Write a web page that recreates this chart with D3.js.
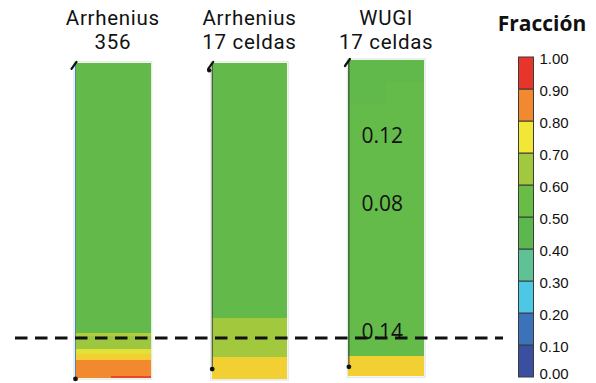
<!DOCTYPE html>
<html>
<head>
<meta charset="utf-8">
<script src="https://cdn.jsdelivr.net/npm/d3@7"></script>
<style>
  html, body { margin: 0; padding: 0; background: #fff; }
  svg { display: block; }
</style>
</head>
<body>
<svg id="chart" width="596" height="383"></svg>
<script>
// Column identifiers and their two-line headers
const columnKeys = ["a356", "a17", "w17"];
const headerLine1 = ["Arrhenius", "Arrhenius", "WUGI"];
const headerLine2 = ["356", "17 celdas", "17 celdas"];

// Layers per column: [depthTop, depthBottom, widthFrom, widthTo, fraction]
// depth runs 0 (top) .. 100 (bottom); width runs 0 (left) .. 1 (right)
const layersA356 = [
  [0.9, 85.8, 0, 1, 0.50],
  [85.8, 86.8, 0, 1, 0.67],
  [86.8, 90.9, 0, 1, 0.64],
  [90.9, 92.5, 0, 1, 0.73],
  [92.5, 94.3, 0, 1, 0.775],
  [94.3, 100, 0, 1, 0.85],
  [99.3, 100, 0.47, 1, 0.93]
];
const layersA17 = [
  [0.9, 81.1, 0, 1, 0.50],
  [81.1, 93.4, 0, 1, 0.65],
  [93.4, 100.3, 0, 1, 0.775]
];
const layersW17 = [
  [0, 6.9, 0, 1, 0.485],
  [6.9, 13.5, 0, 0.5, 0.485],
  [6.9, 13.5, 0.5, 1, 0.51],
  [13.5, 93.1, 0, 1, 0.51],
  [93.1, 99.5, 0, 1, 0.775]
];
const columnLayers = [layersA356, layersA17, layersW17];

// Depth where each column's probe starts and ends (dot)
const probeEndDepth = [100.3, 97.2, 96.5];
const probeTopDepth = [0.9, 0.9, 0];

// Numbers written inside the WUGI column
const fieldLabelText = ["0.12", "0.08", "0.14"];
const fieldLabelDepth = [23.6, 45.0, 85.4];

// Horizontal reference level
const referenceDepth = 87.4;

// Colour legend
const legendTitle = "Fracción";
const legendTicks = [0, 0.1, 0.2, 0.3, 0.4, 0.5, 0.6, 0.7, 0.8, 0.9, 1.0];
const legendColors = ["#3a4f9f", "#3b72ba", "#4cc7e6", "#5fc196", "#5cb74f",
                      "#69bd47", "#a2c83d", "#f2e736", "#f3892e", "#e8352b"];

const svg = d3.select("#chart");

// Scales
const x = d3.scaleBand().domain(columnKeys).range([75, 424]).paddingInner(0.447).paddingOuter(0);
const y = d3.scaleLinear().domain([0, 100]).range([60, 378]);
const mids = legendColors.map((_, i) => (legendTicks[i] + legendTicks[i + 1]) / 2);
const fieldColor = d3.scaleLinear().domain(mids).range(legendColors)
  .interpolate(d3.interpolateRgb).clamp(true);

// Columns
columnKeys.forEach((key, ci) => {
  const g = svg.append("g");
  const x0 = x(key), bw = x.bandwidth();
  const layers = columnLayers[ci];
  const top = d3.min(layers, d => d[0]), bottom = d3.max(layers, d => d[1]);

  // soft outline around the column
  g.append("rect")
    .attr("x", x0 - 1).attr("y", y(top) - 1)
    .attr("width", bw + 2).attr("height", y(bottom) - y(top) + 2)
    .attr("fill", "none").attr("stroke", "#e3ebe3").attr("stroke-width", 1.5);

  g.selectAll("rect.cell").data(layers).join("rect")
    .attr("class", "cell")
    .attr("x", d => x0 + d[2] * bw)
    .attr("y", d => y(d[0]))
    .attr("width", d => (d[3] - d[2]) * bw)
    .attr("height", d => y(d[1]) - y(d[0]))
    .attr("fill", d => fieldColor(d[4]))
    .attr("shape-rendering", "crispEdges");

  // probe line along the left edge
  g.append("line")
    .attr("x1", x0 + 0.5).attr("x2", x0 + 0.5)
    .attr("y1", y(probeTopDepth[ci])).attr("y2", y(probeEndDepth[ci]))
    .attr("stroke", ci === 0 ? "#4f86b8" : "#3a3a3a").attr("stroke-width", 1);
  g.append("circle")
    .attr("cx", x0 + 0.5).attr("cy", y(probeEndDepth[ci])).attr("r", 2.4)
    .attr("fill", "#111");

  // small tilted marker at the top-left corner
  const ty = y(probeTopDepth[ci]);
  g.append("line")
    .attr("x1", x0 - 3.5).attr("y1", ty + 6)
    .attr("x2", x0 + 1.5).attr("y2", ty - 1)
    .attr("stroke", "#111").attr("stroke-width", 2.2).attr("stroke-linecap", "round");
  if (ci === 1) {
    g.append("circle").attr("cx", x0 - 2.5).attr("cy", ty + 7.5).attr("r", 2.2).attr("fill", "#111");
  }

  // headers
  const cx = x0 + bw / 2;
  [headerLine1[ci], headerLine2[ci]].forEach((t, li) => {
    g.append("text").attr("x", cx).attr("y", li === 0 ? 24.5 : 49)
      .attr("text-anchor", "middle")
      .attr("font-family", "Roboto, sans-serif").attr("font-size", 20.5)
      .attr("letter-spacing", 0.7)
      .attr("fill", "#111").text(t);
  });
});

// Dashed reference line
svg.append("line")
  .attr("x1", 15).attr("x2", 503)
  .attr("y1", y(referenceDepth)).attr("y2", y(referenceDepth))
  .attr("stroke", "#111").attr("stroke-width", 3)
  .attr("stroke-dasharray", "12.5,7.5");

// Values written in the WUGI column
const wx = x("w17") + x.bandwidth() / 2 - 4;
svg.selectAll("text.field").data(fieldLabelText).join("text")
  .attr("class", "field")
  .attr("x", wx)
  .attr("y", (d, i) => y(fieldLabelDepth[i]))
  .attr("dy", "0.36em")
  .attr("text-anchor", "middle")
  .attr("font-family", "'Open Sans', sans-serif").attr("font-size", 21)
  .attr("fill", "#111")
  .text(d => d);

// Legend
const ly = d3.scaleLinear().domain([0, 1]).range([377, 57]);
const lx = 518.5, lw = 15;
const legend = svg.append("g");
legend.selectAll("rect").data(legendColors).join("rect")
  .attr("x", lx).attr("width", lw)
  .attr("y", (d, i) => ly(legendTicks[i + 1]))
  .attr("height", (d, i) => ly(legendTicks[i]) - ly(legendTicks[i + 1]))
  .attr("fill", d => d)
  .attr("stroke", "#3b3b3b").attr("stroke-width", 1);

const axis = legend.append("g")
  .attr("transform", `translate(${lx + lw},0)`)
  .call(d3.axisRight(ly).tickValues(legendTicks).tickFormat(d3.format(".2f"))
    .tickSize(0).tickPadding(6));
axis.select(".domain").remove();
axis.selectAll("text")
  .attr("font-family", "'Liberation Sans', Arial, sans-serif")
  .attr("font-size", 15).attr("fill", "#111")
  .attr("dy", d => d === 0 ? "0.13em" : "0.45em");

legend.append("text")
  .attr("x", 542).attr("y", 31)
  .attr("text-anchor", "middle")
  .attr("font-family", "'Open Sans', sans-serif").attr("font-weight", "bold")
  .attr("font-size", 21).attr("fill", "#111")
  .text(legendTitle);
</script>
</body>
</html>
